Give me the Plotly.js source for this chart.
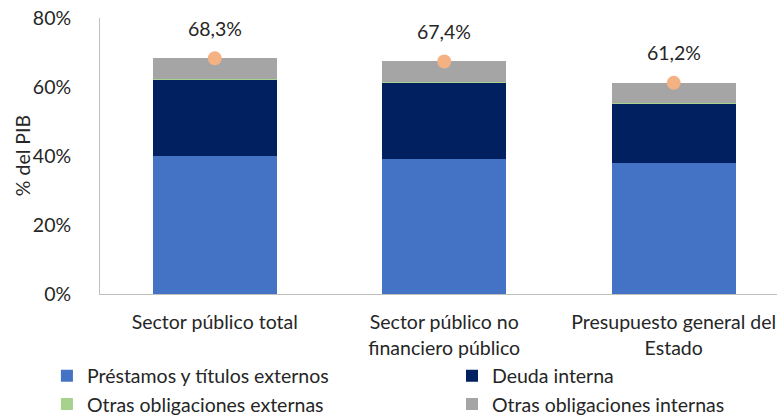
<!DOCTYPE html>
<html><head><meta charset="utf-8">
<script src="https://cdn.plot.ly/plotly-3.0.1.min.js"></script>
<style>html,body{margin:0;padding:0;background:#fff}#chart{width:782px;height:417px}</style>
</head><body><div id="chart"></div>
<script>
const categories = ["Sector público total", "Sector público no<br>financiero público", "Presupuesto general del<br>Estado"];
const prestamosExternos = [40.0, 39.2, 37.9];
const deudaInterna = [22.0, 22.0, 17.3];
const otrasExternas = [0.2, 0.2, 0.1];
const otrasInternas = [6.1, 6.0, 5.9];
const totals = [68.3, 67.4, 61.2];
const totalLabels = ["68,3%", "67,4%", "61,2%"];
const yTicks = [0, 20, 40, 60, 80];
const yTickLabels = ["0%", "20%", "40%", "60%", "80%"];
const yTitle = "% del PIB";

const FONT = "Lato, 'Open Sans', sans-serif";
const FS = 19.5;
const TXT = "#262626";
const bw = 0.54;
const traces = [
  {type:"bar", name:"Préstamos y títulos externos", x:categories, y:prestamosExternos, marker:{color:"#4472C4"}, width:bw, legend:"legend"},
  {type:"bar", name:"Deuda interna", x:categories, y:deudaInterna, marker:{color:"#002060"}, width:bw, legend:"legend2"},
  {type:"bar", name:"Otras obligaciones externas", x:categories, y:otrasExternas, marker:{color:"#A9D18E"}, width:bw, legend:"legend"},
  {type:"bar", name:"Otras obligaciones internas", x:categories, y:otrasInternas, marker:{color:"#A5A5A5"}, width:bw, legend:"legend2"},
  {type:"scatter", mode:"markers", x:categories, y:totals, marker:{color:"#F4B183", size:14}, showlegend:false}
];
const annotations = categories.map((c,i)=>({x:c, y:totals[i], text:totalLabels[i], showarrow:false, yshift:30, font:{family:FONT, size:FS, color:TXT}}));
annotations.push({xref:"paper", yref:"paper", x:-0.115, y:0.5, xanchor:"center", yanchor:"middle", textangle:-90, text:yTitle, showarrow:false, font:{family:FONT, size:FS, color:TXT}});
const legendBase = {orientation:"v", xref:"container", yref:"container", xanchor:"left", yanchor:"top", traceorder:"normal", bgcolor:"rgba(0,0,0,0)", font:{family:FONT, size:FS, color:TXT}};
const layout = {
  width:782, height:417,
  margin:{l:100, r:5, t:18, b:123, autoexpand:false},
  barmode:"stack",
  paper_bgcolor:"#fff", plot_bgcolor:"#fff",
  font:{family:FONT, size:FS, color:TXT},
  xaxis:{range:[-0.5, 2.45], automargin:false, tickangle:0, showline:true, linecolor:"#BFBFBF", linewidth:1, ticks:"", showgrid:false, zeroline:false, ticklabelstandoff:11, tickfont:{family:FONT, size:FS, color:TXT}},
  yaxis:{range:[0, 80], automargin:false, tickvals:yTicks, ticktext:yTickLabels, showline:true, linecolor:"#BFBFBF", linewidth:1, ticks:"", showgrid:false, zeroline:false, ticklabelstandoff:24},
  showlegend:true,
  legend:Object.assign({}, legendBase, {x:0.06, y:0.145}),
  legend2:Object.assign({}, legendBase, {x:0.578, y:0.145}),
  annotations:annotations
};
Plotly.newPlot("chart", traces, layout, {displayModeBar:false, staticPlot:true});
</script></body></html>
